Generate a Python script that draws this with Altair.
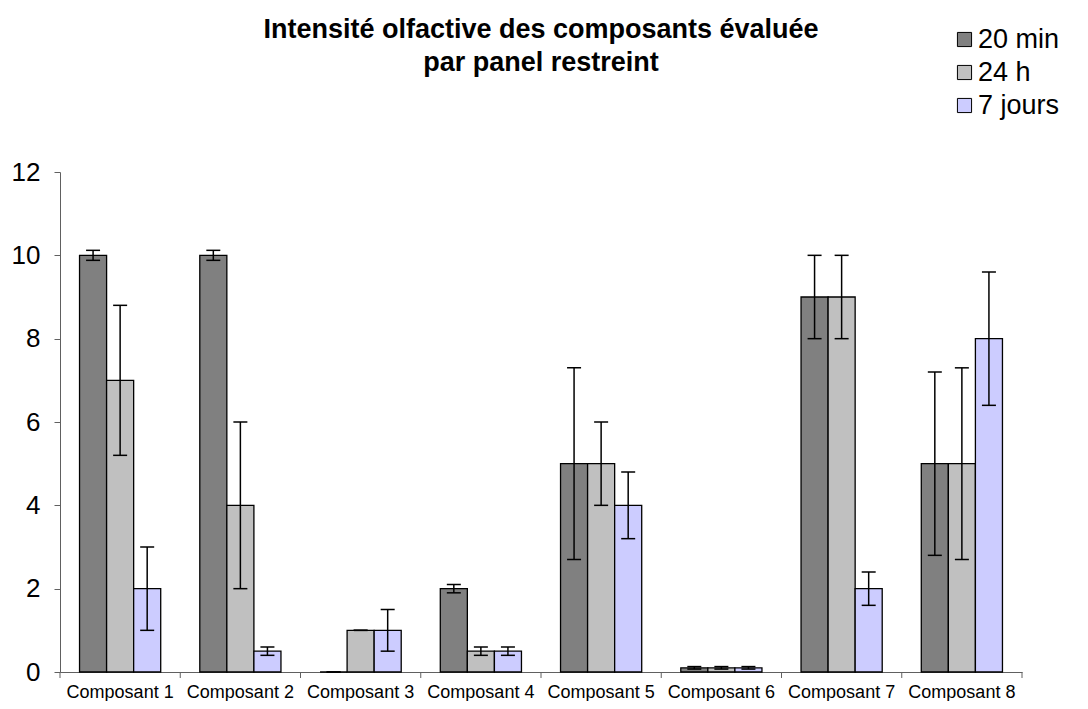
import altair as alt
import pandas as pd

categories = ["Composant 1", "Composant 2", "Composant 3", "Composant 4",
              "Composant 5", "Composant 6", "Composant 7", "Composant 8"]
series = ["20 min", "24 h", "7 jours"]
colors = ["#808080", "#C0C0C0", "#CCCCFF"]

values_20min = [10, 10, 0, 2, 5, 0.1, 9, 5]
errors_20min = [0.12, 0.12, 0, 0.1, 2.3, 0.03, 1, 2.2]
values_24h = [7, 4, 1, 0.5, 5, 0.1, 9, 5]
errors_24h = [1.8, 2, 0, 0.1, 1, 0.03, 1, 2.3]
values_7j = [2, 0.5, 1, 0.5, 4, 0.1, 2, 8]
errors_7j = [1, 0.1, 0.5, 0.1, 0.8, 0.03, 0.4, 1.6]

y_ticks = [0, 2, 4, 6, 8, 10, 12]
boundaries = list(range(0, len(categories) + 1))

rows = []
for s, vals, errs in zip(series, [values_20min, values_24h, values_7j],
                         [errors_20min, errors_24h, errors_7j]):
    for c, v, e in zip(categories, vals, errs):
        rows.append({"cat": c, "serie": s, "val": v, "lo": v - e, "hi": v + e})
df = pd.DataFrame(rows)
tick_df = pd.DataFrame({"pos": boundaries})

FONT = "Liberation Sans"
AXIS_COLOR = "#606060"
W, H = 962, 500

x_axis = alt.Axis(title=None, labelAngle=0, ticks=False, labelFontSize=18,
                  labelFont=FONT, labelColor="black", labelPadding=11,
                  domainColor=AXIS_COLOR, domainWidth=1)
y_axis = alt.Axis(title=None, values=y_ticks, grid=False, tickSize=6,
                  tickColor=AXIS_COLOR, domainColor=AXIS_COLOR,
                  labelFontSize=26, labelFont=FONT, labelColor="black",
                  labelPadding=14)


def xenc():
    return alt.X("cat:N", sort=categories,
                 scale=alt.Scale(paddingInner=0.325, paddingOuter=0.1625),
                 axis=x_axis)


def yenc(field):
    return alt.Y(f"{field}:Q", scale=alt.Scale(domain=[0, 12], nice=False),
                 axis=y_axis)


xo = alt.XOffset("serie:N", sort=series,
                 scale=alt.Scale(paddingInner=0, paddingOuter=0))

bars = alt.Chart(df).mark_bar(stroke="black", strokeWidth=1.3, opacity=1).encode(
    x=xenc(), xOffset=xo, y=yenc("val"),
    color=alt.Color(
        "serie:N", sort=series,
        scale=alt.Scale(domain=series, range=colors),
        legend=alt.Legend(title=None, orient="none", legendX=891, legendY=-146,
                          symbolType="square", symbolSize=200,
                          symbolStrokeColor="black", symbolStrokeWidth=1,
                          symbolOpacity=1, labelFontSize=27, labelFont=FONT,
                          labelColor="black", rowPadding=5, labelOffset=0),
    ),
)

err = alt.Chart(df).mark_rule(color="black", strokeWidth=1.5).encode(
    x=xenc(), xOffset=xo, y=yenc("lo"), y2="hi:Q"
)
cap_lo = alt.Chart(df).mark_tick(color="black", size=14, thickness=1.5, opacity=1).encode(
    x=xenc(), xOffset=xo, y=yenc("lo")
)
cap_hi = alt.Chart(df).mark_tick(color="black", size=14, thickness=1.5, opacity=1).encode(
    x=xenc(), xOffset=xo, y=yenc("hi")
)

main = alt.layer(bars, err, cap_lo, cap_hi)

xticks = alt.Chart(tick_df).mark_rule(color=AXIS_COLOR, strokeWidth=1).encode(
    x=alt.X("pos:Q", scale=alt.Scale(domain=[0, len(categories)], nice=False, zero=False), axis=None),
    y=alt.value(H), y2=alt.value(H + 6),
)

chart = alt.layer(main, xticks).resolve_scale(x="independent").properties(
    width=W, height=H,
    title=alt.TitleParams(
        text=["Intensité olfactive des composants évaluée", "par panel restreint"],
        fontSize=27, font=FONT, fontWeight="bold", anchor="middle",
        color="black", lineHeight=33, offset=-51,
    ),
    padding={"left": 52, "top": 164, "right": 58, "bottom": 29},
    autosize=alt.AutoSizeParams(type="none"),
).configure_view(stroke=None)

chart.save("out.html", embed_options={"renderer": "svg", "actions": False})
